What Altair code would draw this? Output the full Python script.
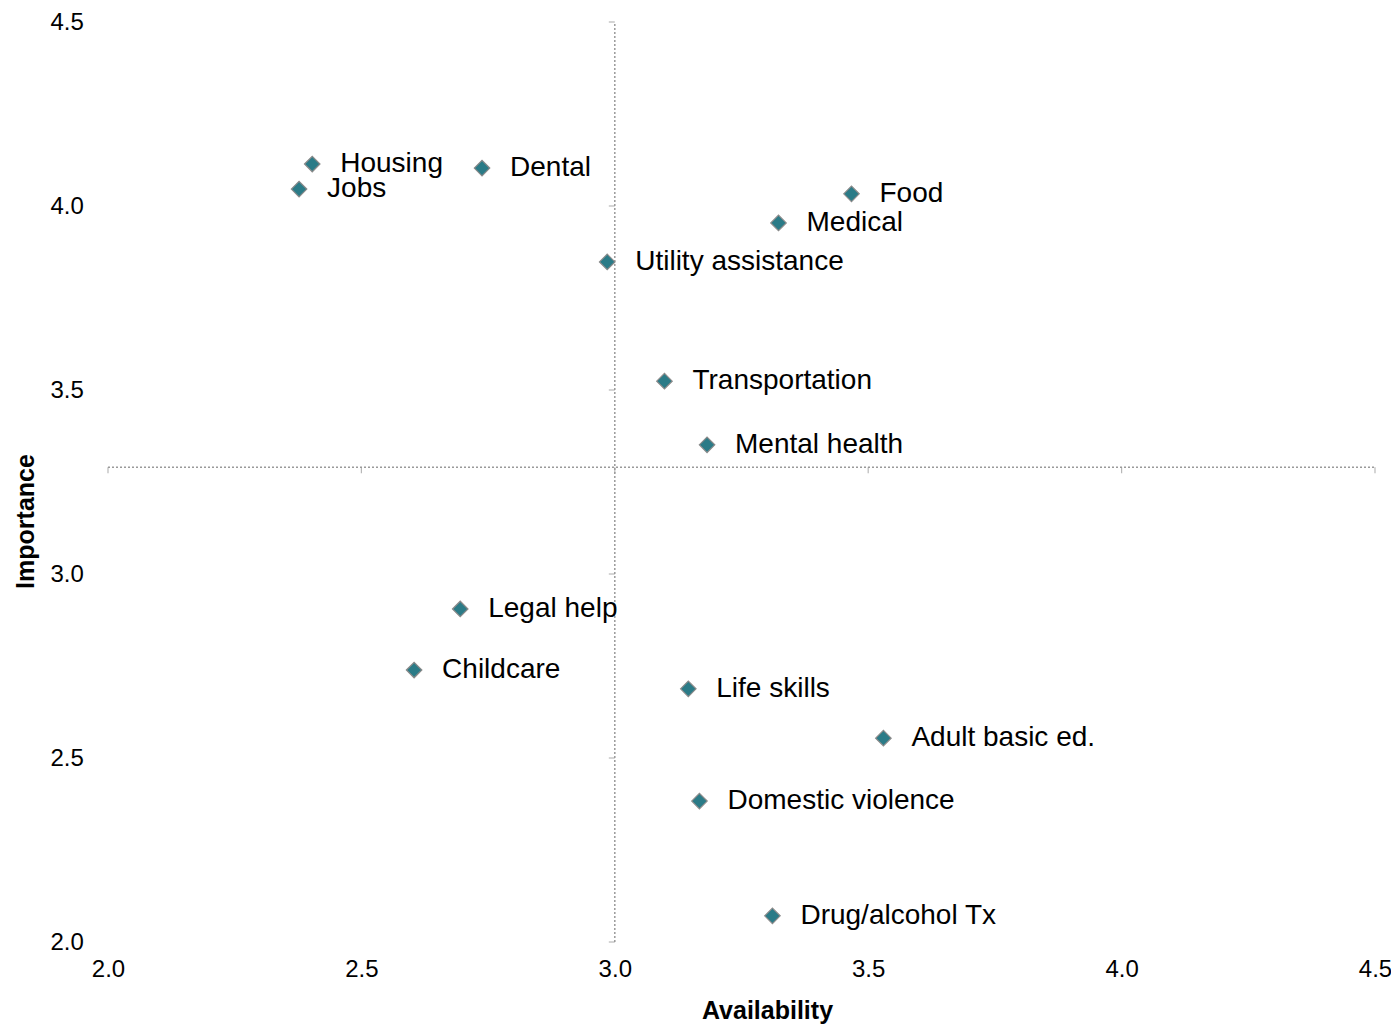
import altair as alt
import pandas as pd

# ---- data ----
services = ["Housing", "Jobs", "Dental", "Food", "Medical", "Utility assistance",
            "Transportation", "Mental health", "Legal help", "Childcare",
            "Life skills", "Adult basic ed.", "Domestic violence", "Drug/alcohol Tx"]
availability = [2.403, 2.377, 2.738, 3.467, 3.323, 2.985, 3.098, 3.182, 2.695, 2.604,
                3.145, 3.530, 3.167, 3.311]
importance = [4.114, 4.046, 4.103, 4.033, 3.954, 3.848, 3.524, 3.351, 2.905, 2.739,
              2.688, 2.554, 2.383, 2.071]

axis_values = [2.0, 2.5, 3.0, 3.5, 4.0, 4.5]
cross_x = [3.0]
cross_y = [3.29]

FONT = "Liberation Sans"

df = pd.DataFrame({"service": services, "Availability": availability, "Importance": importance})
vline = pd.DataFrame({"x": cross_x, "y": [axis_values[0]], "y2": [axis_values[-1]]})
hline = pd.DataFrame({"y": cross_y, "x": [axis_values[0]], "x2": [axis_values[-1]]})
vticks = pd.DataFrame({"x": cross_x * len(axis_values), "y": axis_values})
hticks = pd.DataFrame({"y": cross_y * len(axis_values), "x": axis_values})

xscale = alt.Scale(domain=[2.0, 4.5], nice=False, zero=False)
yscale = alt.Scale(domain=[2.0, 4.5], nice=False, zero=False)

xaxis = alt.Axis(values=axis_values, format=".1f", domain=False, ticks=False, tickSize=0,
                 grid=False, labelFontSize=24, labelFont=FONT, labelColor="#000",
                 labelFlush=False, labelPadding=15, title="Availability", titleFont=FONT,
                 titleFontSize=25, titleFontWeight="bold", titleColor="#000",
                 titleX=659, titleY=68, titleBaseline="middle", titleAlign="center")
yaxis = alt.Axis(values=axis_values, format=".1f", domain=False, ticks=False, tickSize=0,
                 grid=False, labelFontSize=24, labelFont=FONT, labelColor="#000",
                 labelFlush=False, labelAlign="left", labelPadding=58, labelBaseline="middle",
                 title="Importance", titleFont=FONT, titleFontSize=25,
                 titleFontWeight="bold", titleColor="#000", titleAngle=270,
                 titleX=-83, titleY=499, titleBaseline="middle", titleAlign="center")

line_color = "#9a9a9a"

v = alt.Chart(vline).mark_rule(color=line_color, strokeDash=[2, 2], strokeWidth=1.5).encode(
    x=alt.X("x:Q", scale=xscale, axis=xaxis),
    y=alt.Y("y:Q", scale=yscale, axis=yaxis),
    y2="y2:Q",
)
h = alt.Chart(hline).mark_rule(color=line_color, strokeDash=[2, 2], strokeWidth=1.5).encode(
    x=alt.X("x:Q", scale=xscale),
    x2="x2:Q",
    y=alt.Y("y:Q", scale=yscale),
)
vt = alt.Chart(vticks).mark_tick(orient="horizontal", color=line_color, size=6,
                                 thickness=1.2, xOffset=-3).encode(
    x=alt.X("x:Q", scale=xscale), y=alt.Y("y:Q", scale=yscale))
ht = alt.Chart(hticks).mark_tick(orient="vertical", color=line_color, size=6,
                                 thickness=1.2, yOffset=3).encode(
    x=alt.X("x:Q", scale=xscale), y=alt.Y("y:Q", scale=yscale))

pts = alt.Chart(df).mark_point(shape="diamond", filled=True, fill="#2b7b87", stroke="#8a8a8a",
                               strokeWidth=1.2, size=240, opacity=1).encode(
    x=alt.X("Availability:Q", scale=xscale),
    y=alt.Y("Importance:Q", scale=yscale),
)
labels = alt.Chart(df).mark_text(align="left", baseline="middle", dx=28, fontSize=28,
                                 font=FONT, color="#000").encode(
    x=alt.X("Availability:Q", scale=xscale),
    y=alt.Y("Importance:Q", scale=yscale),
    text="service:N",
)

chart = alt.layer(v, h, vt, ht, pts, labels).properties(
    width=1267, height=920,
    background="white",
    autosize=alt.AutoSizeParams(type="none"),
    padding={"left": 100, "top": 14, "right": 16, "bottom": 83},
).configure_view(stroke="transparent", strokeWidth=0)

chart.save("out.html", embed_options={"renderer": "svg", "actions": False})
